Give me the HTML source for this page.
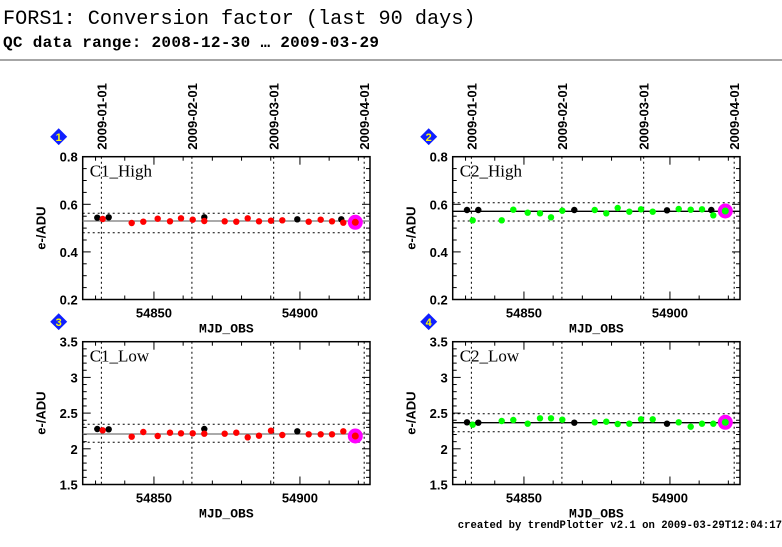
<!DOCTYPE html>
<html><head><meta charset="utf-8"><style>
body{margin:0;background:#fff;width:782px;height:542px;overflow:hidden}
svg text{font-family:"Liberation Sans",sans-serif}
</style></head><body>
<svg id="s" width="782" height="542" xmlns="http://www.w3.org/2000/svg">
<text x="3" y="24" style="font-family:'Liberation Mono',monospace" font-size="20.2">FORS1: Conversion factor (last 90 days)</text>
<text x="3" y="47" style="font-family:'Liberation Mono',monospace;font-weight:bold" font-size="16" letter-spacing="0.3">QC data range: 2008-12-30 … 2009-03-29</text>
<line x1="0" y1="60" x2="782" y2="60" stroke="#888" stroke-width="1.5"/>
<text x="782" y="528" text-anchor="end" style="font-family:'Liberation Mono',monospace;font-weight:bold" font-size="10.6">created by trendPlotter v2.1 on 2009-03-29T12:04:17</text>
</svg>
<script>
const S=document.getElementById('s');const NS='http://www.w3.org/2000/svg';
function el(t,a,txt){const e=document.createElementNS(NS,t);for(const k in a)e.setAttribute(k,a[k]);if(txt!==undefined)e.textContent=txt;S.appendChild(e);return e;}
function panel(dx,dy,o){
 const L=82.7+dx,R=370+dx,T=156.7+dy,B=299.5+dy;
 const xm=v=>L+(v-54825.6)*2.92;
 const ym=v=>T+(o.ymax-v)/(o.ymax-o.ymin)*(B-T);
 [[54832,'2009-01-01'],[54863,'2009-02-01'],[54891,'2009-03-01'],[54922,'2009-04-01']].forEach(d=>{
  const x=xm(d[0]);
  el('line',{x1:x,y1:T,x2:x,y2:B,stroke:'#000','stroke-dasharray':'2,3','stroke-width':1});
  if(dy==0)el('text',{x:0,y:0,transform:`translate(${x+5},${T-7}) rotate(-90)`,'font-size':13,'font-weight':'bold'},d[1]);
 });
 for(let v=54830;v<=54920;v+=10){const x=xm(v);const l=(v%50==0)?8:4;
  el('line',{x1:x,y1:B,x2:x,y2:B-l,stroke:'#000'});el('line',{x1:x,y1:T,x2:x,y2:T+l,stroke:'#000'});}
 [54850,54900].forEach(v=>el('text',{x:xm(v),y:B+18,'text-anchor':'middle','font-size':13,'font-weight':'bold'},v));
 const n=Math.round((o.ymax-o.ymin)/o.minor);
 for(let i=0;i<=n;i++){const v=o.ymin+i*o.minor;const y=ym(v);const maj=Math.abs(v/o.major-Math.round(v/o.major))<1e-6;const l=maj?8:4;
  el('line',{x1:L,y1:y,x2:L+l,y2:y,stroke:'#000'});el('line',{x1:R,y1:y,x2:R-l,y2:y,stroke:'#000'});
  if(maj)el('text',{x:L-5,y:y+5,'text-anchor':'end','font-size':13,'font-weight':'bold'},o.fmt(v));}
 el('rect',{x:L,y:T,width:R-L,height:B-T,fill:'none',stroke:'#000','stroke-width':1.5});
 el('text',{x:0,y:0,transform:`translate(${L-37},${(T+B)/2}) rotate(-90)`,'text-anchor':'middle','font-size':13,'font-weight':'bold'},'e-/ADU');
 el('text',{x:(L+R)/2,y:B+33,'text-anchor':'middle',style:"font-family:'Liberation Mono',monospace;font-weight:bold",'font-size':13},'MJD_OBS');
 el('text',{x:L+7,y:T+20,style:"font-family:'Liberation Serif',serif",'font-size':17},o.name);
 el('line',{x1:L,y1:o.mean,x2:R,y2:o.mean,stroke:o.mc,'stroke-width':1.3});
 o.dots.forEach(y=>el('line',{x1:L,y1:y,x2:R,y2:y,stroke:'#000','stroke-dasharray':'2,3'}));
 const dxm=L-24,dym=T-20;
 el('rect',{x:dxm-6,y:dym-6,width:12,height:12,fill:'#1020ff',transform:`rotate(45 ${dxm} ${dym})`});
 el('text',{x:dxm,y:dym+4.5,'text-anchor':'middle','font-size':11,'font-weight':'bold',fill:'#ff0'},o.num);
 o.pts.forEach(p=>{const x=p[0]+dx;
  if(p[2]=='m'){el('circle',{cx:x,cy:p[1],r:7.5,fill:'#f0f'});el('circle',{cx:x,cy:p[1],r:3.5,fill:o.c});}
  else el('circle',{cx:x,cy:p[1],r:3.2,fill:p[2]=='k'?'#000':o.c});});
}
const P1=[[97.3,217.7,'k'],[102.7,219,'c'],[108.7,217.3,'k'],[131.7,223,'c'],[143.3,221.7,'c'],[157.7,218.7,'c'],[170,221.3,'c'],[181,218.3,'c'],[192.7,219.7,'c'],[204.3,217.3,'k'],[204.3,221,'c'],[224.7,221.3,'c'],[236.3,221.7,'c'],[247.7,218.3,'c'],[259,221.3,'c'],[271,220.7,'c'],[282.3,220.3,'c'],[297.3,219.3,'k'],[308.7,221.7,'c'],[320.7,219.7,'c'],[332,221.3,'c'],[341.3,219.3,'k'],[343.3,222.7,'c'],[355.3,222.3,'m']];
panel(0,0,{ymin:0.2,ymax:0.8,minor:0.05,major:0.2,fmt:v=>v.toFixed(1),name:'C1_High',num:'1',c:'#f00',mc:'#777',mean:221,dots:[213.3,232.7],pts:P1});
const P2=[[97,210,'k'],[102.7,220.3,'c'],[108.3,210,'k'],[131.7,220.3,'c'],[143.3,209.7,'c'],[157.7,212.7,'c'],[170,213.3,'c'],[181,217.3,'c'],[192.3,210.7,'c'],[204.3,210,'k'],[224.7,210,'c'],[236.3,213.3,'c'],[247.7,208,'c'],[259.3,211.7,'c'],[271,209.3,'c'],[282.7,211.7,'c'],[297,210.3,'k'],[308.7,209,'c'],[320.7,209.7,'c'],[332,209.3,'c'],[341.3,210,'k'],[343.3,215.3,'c'],[355.3,211,'m']];
panel(370,0,{ymin:0.2,ymax:0.8,minor:0.05,major:0.2,fmt:v=>v.toFixed(1),name:'C2_High',num:'2',c:'#0f0',mc:'#000',mean:211.3,dots:[202.7,221],pts:P2});
const P3=[[97.3,429,'k'],[102.7,430.3,'c'],[108.7,429.3,'k'],[131.7,436.7,'c'],[143.3,432,'c'],[157.7,436,'c'],[170,432.7,'c'],[181,433.3,'c'],[192.7,433.3,'c'],[204.3,429,'k'],[204.3,433.7,'c'],[224.7,433.7,'c'],[236.3,432.7,'c'],[247.7,437.3,'c'],[259,435.7,'c'],[271,430.7,'c'],[282.3,435,'c'],[297.3,431.3,'k'],[308.7,434.3,'c'],[320.7,434.3,'c'],[332,434.3,'c'],[343.3,431.3,'c'],[355.3,436,'m']];
const fl=v=>Math.abs(v-Math.round(v))<1e-6?String(Math.round(v)):v.toFixed(1);
panel(0,185,{ymin:1.5,ymax:3.5,minor:0.1,major:0.5,fmt:fl,name:'C1_Low',num:'3',c:'#f00',mc:'#777',mean:434,dots:[424.3,442.3],pts:P3});
const P4=[[97,422.3,'k'],[102.7,424.7,'c'],[108.3,422.7,'k'],[131.7,421,'c'],[143.3,420,'c'],[157.7,423.7,'c'],[170,418.3,'c'],[181,418.3,'c'],[192.3,419.7,'c'],[204.3,422.7,'k'],[224.7,422.3,'c'],[236.3,421.7,'c'],[247.7,424,'c'],[259.3,423.7,'c'],[271,419.3,'c'],[282.7,419.3,'c'],[297,423.7,'k'],[308.7,422.3,'c'],[320.7,426.7,'c'],[332,423.7,'c'],[343.3,423.7,'c'],[355.3,422.3,'m']];
panel(370,185,{ymin:1.5,ymax:3.5,minor:0.1,major:0.5,fmt:fl,name:'C2_Low',num:'4',c:'#0f0',mc:'#000',mean:422.7,dots:[413.7,431.7],pts:P4});
</script>
</body></html>
